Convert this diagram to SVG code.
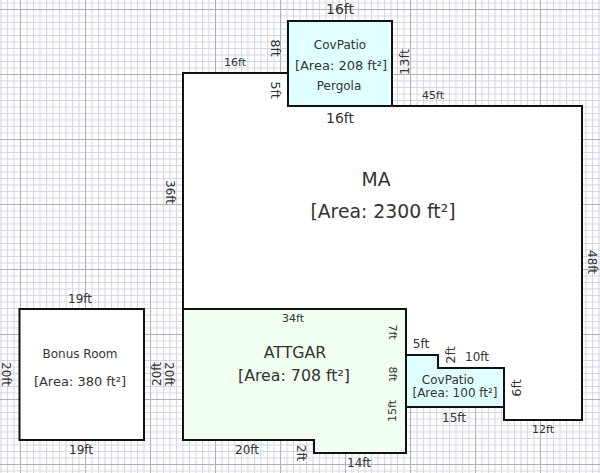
<svg xmlns="http://www.w3.org/2000/svg" width="600" height="473" viewBox="0 0 600 473">
<style>
.room{stroke:#111;stroke-width:2;stroke-linejoin:miter}
text{font-family:"DejaVu Sans",Verdana,sans-serif;fill:#333;text-anchor:middle}
.d{font-size:11px}
.e{font-size:12px}
.f{font-size:13px}
.t{font-size:14px}
.s{font-size:12px}
.m{font-size:15.800px}
.l{font-size:18.800px}
</style>
<defs>
<pattern id="minor" width="6.5" height="6.5" patternUnits="userSpaceOnUse" x="0.5" y="2.5">
<path d="M0.5 0V6.5M0 0.5H6.5" fill="none" stroke="#d4d4e4" stroke-width="1"/>
</pattern>
<pattern id="major" width="65" height="65" patternUnits="userSpaceOnUse" x="20" y="9">
<path d="M0.5 0V65M0 0.5H65" fill="none" stroke="#b0b0ba" stroke-width="1"/>
</pattern>
</defs>
<g id="grid">
<rect width="600" height="473" fill="#fff"/>
<rect width="600" height="473" fill="url(#minor)"/>
<rect width="600" height="473" fill="url(#major)"/>
</g>
<g id="ma">
<path class="room" fill="#fff" d="M183 73H288V106H582V420H504V368H438V355H406V309H183Z"/>
<text x="376" y="186" class="l">MA</text>
<text x="383" y="218" class="l">[Area: 2300 ft²]</text>
</g>
<g id="covpatio-top">
<rect class="room" x="288" y="21" width="104" height="85" fill="#e0ffff"/>
<text x="340" y="49" class="s">CovPatio</text>
<text x="341" y="70" class="f">[Area: 208 ft²]</text>
<text x="339" y="90" class="s">Pergola</text>
</g>
<g id="attgar">
<path class="room" fill="#f0fff0" d="M183 309H406V453H314V440H183Z"/>
<text x="295" y="358" class="m">ATTGAR</text>
<text x="294" y="381" class="m">[Area: 708 ft²]</text>
</g>
<g id="covpatio-right">
<path class="room" fill="#e0ffff" d="M406 355H438V368H504V407H406Z"/>
<text x="448" y="384" class="s">CovPatio</text>
<text x="455" y="397" class="s">[Area: 100 ft²]</text>
</g>
<g id="bonus-room">
<rect class="room" x="19.500" y="309" width="124.500" height="131" fill="#fff"/>
<text x="80" y="358" class="s">Bonus Room</text>
<text x="80" y="386" class="f">[Area: 380 ft²]</text>
</g>
<g id="dimensions">
<text class="t" x="340" y="14">16ft</text>
<text class="t" x="340" y="123">16ft</text>
<text class="d" x="235" y="66">16ft</text>
<text class="d" x="433" y="99">45ft</text>
<text class="d" x="293" y="322">34ft</text>
<text class="e" x="421" y="348">5ft</text>
<text class="e" x="477" y="361">10ft</text>
<text class="e" x="454" y="422">15ft</text>
<text class="d" x="543" y="433">12ft</text>
<text class="e" x="247" y="454">20ft</text>
<text class="e" x="359" y="467">14ft</text>
<text class="e" x="80" y="303">19ft</text>
<text class="e" x="81" y="454">19ft</text>
<text class="f" transform="translate(271,48) rotate(90)">8ft</text>
<text class="f" transform="translate(271,90) rotate(90)">5ft</text>
<text class="f" transform="translate(409,62) rotate(-90)">13ft</text>
<text class="e" transform="translate(166,192) rotate(90)">36ft</text>
<text class="e" transform="translate(588,262) rotate(90)">48ft</text>
<text class="e" transform="translate(2,374) rotate(90)">20ft</text>
<text class="e" transform="translate(161,374) rotate(-90)">20ft</text>
<text class="e" transform="translate(165,374) rotate(90)">20ft</text>
<text class="d" transform="translate(389,332) rotate(90)">7ft</text>
<text class="d" transform="translate(389,374) rotate(90)">8ft</text>
<text class="d" transform="translate(396,411) rotate(-90)">15ft</text>
<text class="f" transform="translate(455,355) rotate(-90)">2ft</text>
<text class="f" transform="translate(521,388) rotate(-90)">6ft</text>
<text class="e" transform="translate(297,453) rotate(90)">2ft</text>
</g>
</svg>
